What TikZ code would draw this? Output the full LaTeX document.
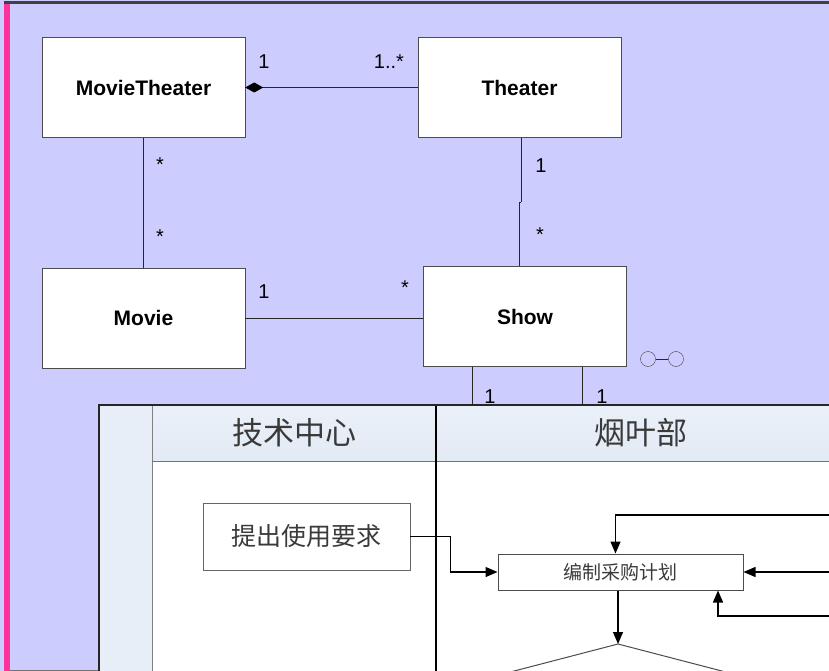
\documentclass[tikz,border=0pt]{standalone}
\usepackage{fontspec}
\setmainfont{Liberation Sans}
\newfontfamily\cjk{Noto Sans CJK SC}
\usepackage{tikz}
\usetikzlibrary{arrows.meta}
\definecolor{lavender}{HTML}{CCCCFF}
\definecolor{pinkbar}{HTML}{FF3399}
\definecolor{lanefill}{HTML}{E2EAF5}
\definecolor{lanetext}{HTML}{3A3A3A}

\begin{document}
\begin{tikzpicture}[x=1pt, y=-1pt]
	\useasboundingbox (0,0) rectangle (829,671);
	\clip (0,0) rectangle (829,671);
	\fill[lavender] (0,0) rectangle (829,671);
	\fill[pinkbar] (4,3) rectangle (10,671);
	\draw[line width=2.5pt, black!75] (4,2.5) -- (829,2.5);
	\draw[black!55] (10,670) -- (829,670);

	\begin{scope}[every node/.style = {rectangle, draw=black!70, fill=white, inner sep=0pt,
			minimum width=203pt, minimum height=100pt, font=\bfseries\fontsize{21}{24}\selectfont}]
		\node (MT) at (143.5,87.5) {MovieTheater};
		\node (T) at (519.5,87.5) {Theater};
		\node (M) at (143.5,318) {Movie};
		\node (S) at (525,316.5) {Show};
	\end{scope}
	\begin{scope}[every node/.style = {inner sep=0pt, font=\fontsize{20}{22}\selectfont}]
		\node (mt1) at (264,62) {1};
		\node (t1) at (389,62) {1..*};
		\node (mtm) at (160,165) {*};
		\node (mmt) at (160,237) {*};
		\node (ts) at (541,166) {1};
		\node (st) at (540,235) {*};
		\node (ms) at (264,292) {1};
		\node (sm) at (405,288) {*};
		\node (sa) at (490,397) {1};
		\node (sb) at (602,397) {1};
	\end{scope}
	\begin{scope}[every node/.style = {circle, draw=black!75, minimum size=15pt, inner sep=0pt}]
		\node (c1) at (648,359) {};
		\node (c2) at (676,359) {};
	\end{scope}
	\coordinate (jogA) at (521,202);
	\coordinate (jogB) at (519,202);
	\coordinate (L1) at (472,405);
	\coordinate (L2) at (582,405);
	\begin{scope}[every edge/.style={draw=black!85, line width=0.8pt}]
		\path [-{Diamond[length=18pt,width=10pt,black]}] (T) edge (MT);
		\path [-] (MT) edge (M);
		\path [-] (M.east) edge (M.east -| S.west);
		\path [-] (T.south -| jogA) edge (jogA);
		\path [-] (jogA) edge (jogB);
		\path [-] (jogB) edge (S.north -| jogB);
		\path [-] (S.south -| L1) edge (L1);
		\path [-] (S.south -| L2) edge (L2);
		\path [-] (c1) edge (c2);
	\end{scope}

	% swimlane picture
	\fill[lanefill!80] (100,405) rectangle (829,671);
	\fill[white] (152,462) rectangle (829,671);
	\shade[top color=lanefill!70, bottom color=lanefill] (152,406) rectangle (829,461);
	\draw[black!50] (152,405) -- (152,671);
	\draw[black!55, line width=1.5pt] (152,461.5) -- (829,461.5);
	\draw[black, line width=1.2pt] (436,405) -- (436,671);
	\draw[line width=2.5pt, black!85] (99,671) -- (99,405) -- (829,405);
	\begin{scope}[every node/.style = {text=lanetext, inner sep=0pt}]
		\node[font=\cjk\fontsize{31}{34}\selectfont] (tech) at (294,433) {技术中心};
		\node[font=\cjk\fontsize{31}{34}\selectfont] (leaf) at (641,433) {烟叶部};
		\node[draw=black!60, fill=white, minimum width=207pt, minimum height=67pt,
			font=\cjk\fontsize{25}{28}\selectfont] (req) at (306.5,536.5) {提出使用要求};
		\node[draw=black!70, line width=1pt, fill=white, minimum width=245pt, minimum height=36pt,
			font=\cjk\fontsize{19}{22}\selectfont] (plan) at (620.5,572) {编制采购计划};
	\end{scope}
	\coordinate (topin) at (829,515);
	\coordinate (rightin) at (829,572);
	\coordinate (botin) at (829,616);
	\coordinate (botturn) at (718,616);
	\coordinate (dtop) at (618,644);
	\begin{scope}[line width=1.3pt, >={Triangle[length=12pt,width=10pt]}]
		\draw[->] (req.east) -- ++(40,0) |- (plan.west);
		\draw[->] (topin) -| ([xshift=-5pt]plan.north);
		\draw[->] (rightin) -- (plan.east);
		\draw[->] (botin) -- (botturn) -- (botturn |- plan.south);
		\draw[->] (plan.south -| dtop) -- (dtop);
	\end{scope}
	\draw[black!70, line width=1pt] (418,696) -- (dtop) -- (818,696);
\end{tikzpicture}
\end{document}
